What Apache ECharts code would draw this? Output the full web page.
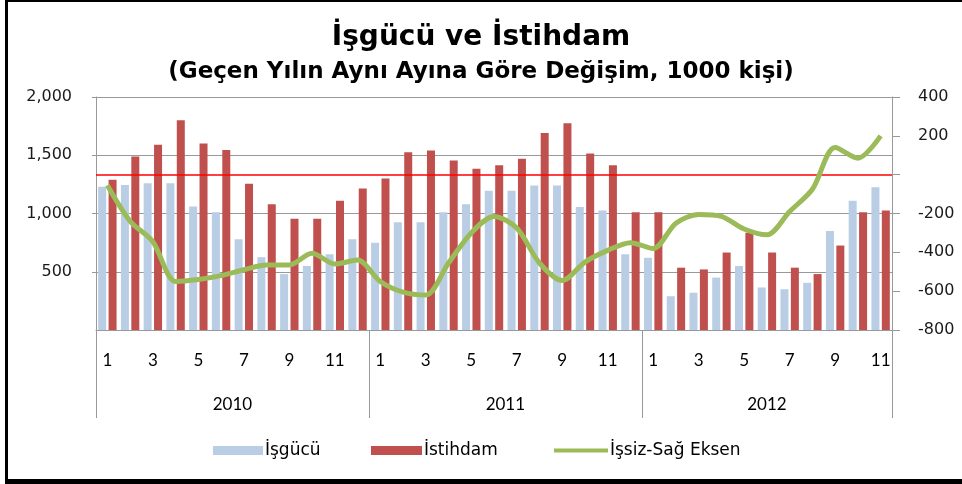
<!DOCTYPE html>
<html>
<head>
<meta charset="utf-8">
<script src="https://cdn.jsdelivr.net/npm/echarts@6/dist/echarts.min.js"></script>
<style>
    html, body {margin:0; padding:0; background:#fff;}
    #chart {width:962px; height:484px;}
</style>
</head>
<body>
<div id="chart"></div>
<script>
// months shown on the axis (2010, 2011 full years, 2012 Jan-Nov)
var monthLabels = [
    '1','2','3','4','5','6','7','8','9','10','11','12',
    '1','2','3','4','5','6','7','8','9','10','11','12',
    '1','2','3','4','5','6','7','8','9','10','11'
];
var yearLabels = ['2010','2011','2012'];
var yearCenters = [6, 18, 29.5];
var yearBounds = [0, 12, 24, 35];

var isgucu = [
    1230,1245,1260,1260,1060,1010,780,625,480,550,650,780,
    750,925,925,1010,1080,1195,1195,1240,1240,1055,1025,650,
    620,290,320,450,550,365,350,405,850,1110,1225
];
var istihdam = [
    1290,1490,1590,1800,1600,1545,1255,1080,955,955,1110,1215,
    1300,1525,1540,1455,1385,1415,1470,1690,1775,1515,1415,1010,
    1010,535,520,665,835,665,535,480,725,1010,1025
];
var issiz = [
    -55,-240,-345,-550,-540,-520,-490,-465,-465,-405,-460,-440,
    -550,-605,-620,-455,-300,-215,-275,-455,-545,-450,-390,-350,
    -380,-250,-205,-215,-280,-310,-190,-75,140,85,200
];

var myChart = echarts.init(document.getElementById('chart'));

var legendText = {fontFamily: 'DejaVu Sans', fontSize: 17, color: '#000', padding: [0,0,0,-3]};

var option = {
    backgroundColor: '#fff',
    animation: false,
    title: {
        left: 'center', top: 19,
        text: 'İşgücü ve İstihdam',
        subtext: '(Geçen Yılın Aynı Ayına Göre Değişim, 1000 kişi)',
        itemGap: 9,
        textStyle: {fontFamily: 'DejaVu Sans', fontWeight: 'bold', fontSize: 28, color: '#000'},
        subtextStyle: {fontFamily: 'DejaVu Sans', fontWeight: 'bold', fontSize: 23, color: '#000'}
    },
    legend: [
        {left: 208, top: 437, itemWidth: 50, itemHeight: 9, icon: 'rect', textStyle: legendText, data: ['İşgücü']},
        {left: 366, top: 437, itemWidth: 51, itemHeight: 9, icon: 'rect', textStyle: legendText, data: ['İstihdam']},
        {left: 549, top: 437, itemWidth: 54, itemHeight: 4, icon: 'rect', textStyle: legendText, data: ['İşsiz-Sağ Eksen']}
    ],
    grid: {left: 96, right: 70, top: 97, bottom: 154},
    xAxis: [
        {
            type: 'category',
            data: monthLabels,
            axisLine: {onZero: false, lineStyle: {color: '#999', width: 1}},
            axisTick: {show: false},
            axisLabel: {interval: 1, margin: 22, fontFamily: 'Lato', fontSize: 17, color: '#000'}
        },
        {
            type: 'value',
            position: 'bottom',
            min: 0, max: 35,
            axisLine: {show: false, onZero: false},
            splitLine: {show: false},
            axisTick: {show: true, inside: false, customValues: yearBounds, length: 88, lineStyle: {color: '#999'}},
            axisLabel: {
                customValues: yearCenters, margin: 66,
                fontFamily: 'Lato', fontSize: 17, color: '#000',
                formatter: function (v) {
                    return yearLabels[yearCenters.indexOf(v)] || '';
                }
            }
        }
    ],
    yAxis: [
        {
            type: 'value', min: 0, max: 2000, interval: 500,
            axisLine: {show: true, onZero: false, lineStyle: {color: '#999'}},
            axisTick: {show: true, length: 4, lineStyle: {color: '#999'}},
            splitLine: {lineStyle: {color: '#999', width: 1.2}},
            axisLabel: {
                showMinLabel: false, margin: 24,
                fontFamily: 'DejaVu Sans', fontSize: 16, color: '#1a1a1a',
                formatter: function (v) { return v.toLocaleString('en-US'); }
            }
        },
        {
            type: 'value', min: -800, max: 400, interval: 200,
            position: 'right',
            axisLine: {show: true, onZero: false, lineStyle: {color: '#999'}},
            axisTick: {show: true, length: 8, lineStyle: {color: '#999'}},
            splitLine: {show: false},
            axisLabel: {
                margin: 26, align: 'left',
                fontFamily: 'DejaVu Sans', fontSize: 16, color: '#1a1a1a',
                formatter: function (v) { return v === 0 ? '' : String(v); }
            }
        }
    ],
    series: [
        {
            name: 'İşgücü', type: 'bar', data: isgucu,
            barWidth: 8, barGap: '30%',
            itemStyle: {color: '#B9CDE5'}
        },
        {
            name: 'İstihdam', type: 'bar', data: istihdam,
            barWidth: 8, barGap: '30%',
            itemStyle: {color: '#C0504D'}
        },
        {
            name: 'İşsiz-Sağ Eksen', type: 'line', yAxisIndex: 1, data: issiz,
            symbol: 'none', smooth: 0.3,
            lineStyle: {color: '#9BBB59', width: 5},
            itemStyle: {color: '#9BBB59'},
            z: 5,
            markLine: {
                silent: true, symbol: 'none', label: {show: false},
                lineStyle: {color: '#FF0000', width: 1.5, type: 'solid'},
                data: [{yAxis: 0}]
            }
        }
    ],
    graphic: [
        {type: 'rect', shape: {x: 5, y: 0, width: 3, height: 484}, style: {fill: '#000'}},
        {type: 'rect', shape: {x: 5, y: 0, width: 957, height: 2}, style: {fill: '#000'}},
        {type: 'rect', shape: {x: 5, y: 479, width: 957, height: 5}, style: {fill: '#000'}}
    ]
};

myChart.setOption(option);
</script>
</body>
</html>
